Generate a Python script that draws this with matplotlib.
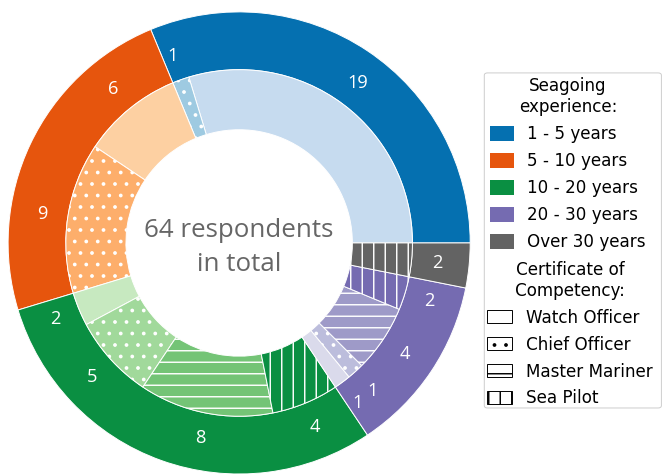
import numpy as np
import matplotlib
matplotlib.use('Agg')
import matplotlib.pyplot as plt
from matplotlib.patches import Patch, FancyBboxPatch

# Survey data: respondents per experience group and certificate
experience = ['1 - 5 years', '5 - 10 years', '10 - 20 years', '20 - 30 years', 'Over 30 years']
certificates = ['Watch Officer', 'Chief Officer', 'Master Mariner', 'Sea Pilot']
watch_officer = [19, 6, 2, 1, 0]
chief_officer = [1, 9, 5, 1, 0]
master_mariner = [0, 0, 8, 4, 0]
sea_pilot = [0, 0, 4, 2, 2]

# Colours: outer ring, then shades per certificate (light -> dark)
outer_colors = ['#0570b0', '#e6550d', '#0a8f42', '#756bb1', '#636363']
shades = [
    ['#c6dbef', '#9ecae1', '#6baed6', '#0570b0'],
    ['#fdd0a2', '#fdae6b', '#fd8d3c', '#e6550d'],
    ['#c7e9c0', '#a1d99b', '#74c476', '#0a8f42'],
    ['#dadaeb', '#bcbddc', '#9e9ac8', '#756bb1'],
    ['#d9d9d9', '#bdbdbd', '#969696', '#636363'],
]
hatches = ['', '.', '-', '|']

plt.rcParams['hatch.linewidth'] = 1.5

by_cert = np.array([watch_officer, chief_officer, master_mariner, sea_pilot]).T
group_totals = by_cert.sum(axis=1)
total = int(group_totals.sum())

inner_vals, inner_colors, inner_hatches = [], [], []
for g in range(len(experience)):
    for c in range(len(certificates)):
        if by_cert[g, c] > 0:
            inner_vals.append(by_cert[g, c])
            inner_colors.append(shades[g][c])
            inner_hatches.append(hatches[c])

fig = plt.figure(figsize=(9.6, 6.9), dpi=69)
ax = fig.add_axes([8 / 662, 2 / 476, 462 / 662, 462 / 476])

ax.pie(group_totals, radius=1.0, colors=outer_colors, startangle=0,
       wedgeprops=dict(width=0.25, edgecolor='white', linewidth=1, clip_on=False))
inner, _ = ax.pie(inner_vals, radius=0.75, colors=inner_colors, startangle=0,
                  wedgeprops=dict(width=0.26, edgecolor='white', linewidth=1, clip_on=False))
for w, h in zip(inner, inner_hatches):
    w.set_hatch(h)

# count labels on the outer ring, at the middle of each inner wedge
for w, v in zip(inner, inner_vals):
    ang = np.deg2rad((w.theta1 + w.theta2) / 2)
    ax.text(0.862 * np.cos(ang), 0.862 * np.sin(ang), str(v), ha='center', va='center',
            color='white', fontsize=19, family='Open Sans')

ax.text(0, -0.02, f'{total} respondents\nin total', ha='center', va='center',
        fontsize=27, color='#666666', family='Open Sans', linespacing=1.45)
ax.set_xlim(-1, 1)
ax.set_ylim(-1, 1)
ax.axis('off')

# Legends (two stacked, one shared frame)
exp_handles = [Patch(facecolor=c) for c in outer_colors]
cert_handles = [Patch(facecolor='white', edgecolor='black', hatch=h, linewidth=1)
                for h in hatches]

leg1 = fig.legend(exp_handles, experience, title='Seagoing\nexperience:', loc='upper left',
                  bbox_to_anchor=(490 / 662, 1 - 77 / 476), frameon=False, fontsize=17.5,
                  title_fontsize=17.5, handlelength=1.4, handleheight=1.0,
                  handletextpad=0.8, labelspacing=0.54, borderpad=0, borderaxespad=0)
leg1.get_title().set_multialignment('center')
leg2 = fig.legend(cert_handles, certificates, title='Certificate of\nCompetency:', loc='upper left',
                  bbox_to_anchor=(487 / 662, 1 - 261 / 476), frameon=False, fontsize=17.5,
                  title_fontsize=17.5, handlelength=1.5, handleheight=0.8,
                  handletextpad=0.8, labelspacing=0.53, borderpad=0, borderaxespad=0)
leg2.get_title().set_multialignment('center')

frame = FancyBboxPatch((484 / 662, 1 - 408 / 476), 177 / 662, 335 / 476,
                       boxstyle='round,pad=0,rounding_size=0.005', transform=fig.transFigure,
                       facecolor='white', edgecolor='0.8', linewidth=1, zorder=1)
fig.add_artist(frame)

fig.savefig('out.png', dpi=69)
